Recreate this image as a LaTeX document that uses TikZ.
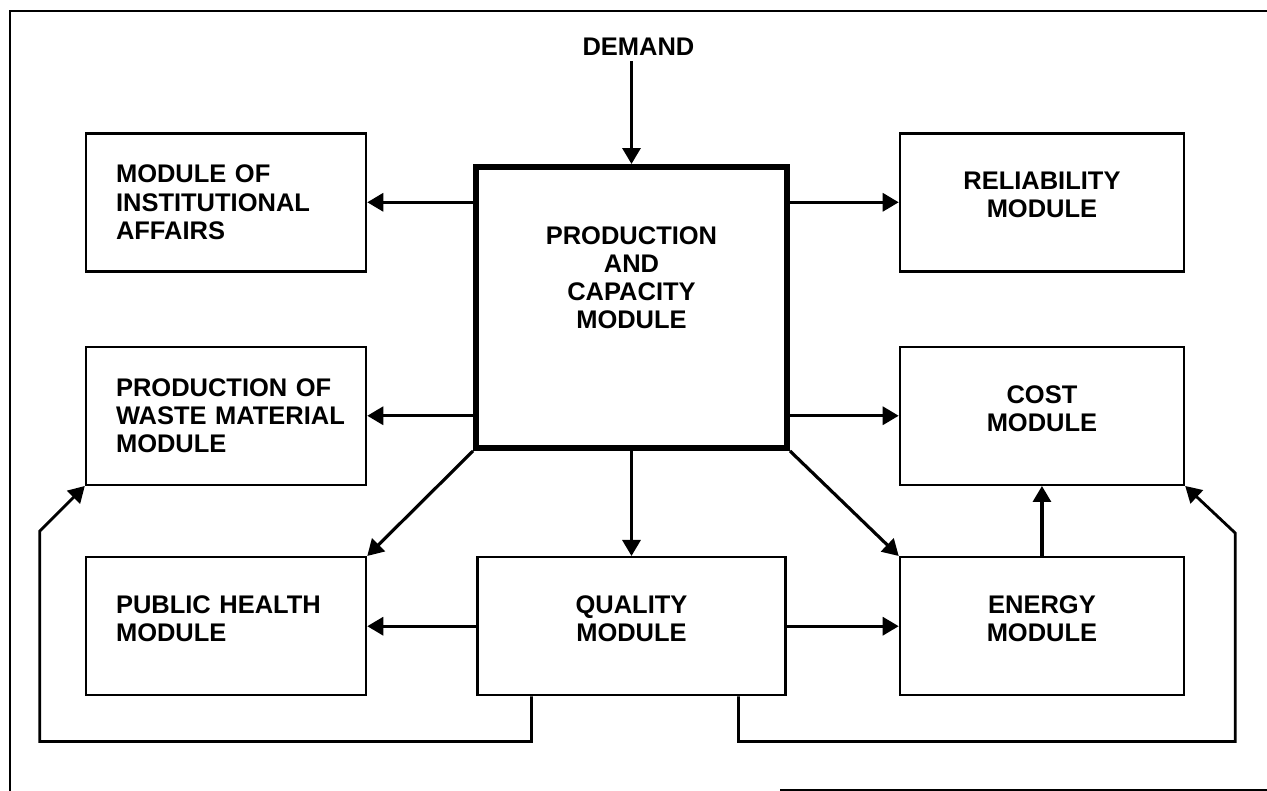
\documentclass[tikz,border=0pt]{standalone}
\usepackage{fontspec}
\setmainfont{Liberation Sans}
\usetikzlibrary{arrows.meta,positioning}

\begin{document}
\begin{tikzpicture}[line width=1.8pt]
\tikzset{module/.style={rectangle,draw,line width=1.4pt,minimum width=5.6cm,minimum height=2.76cm,inner sep=0pt,font=\bfseries\fontsize{14.5}{16}\selectfont}}
\tikzset{leftmod/.style={module,align=left,text width=4.4cm}}
\tikzset{rightmod/.style={module,align=center,minimum width=5.68cm,text depth=0.3cm}}
\tikzstyle{flow} = [-{Triangle[length=0.32cm,width=0.36cm]}]

\useasboundingbox (-12.63,-9.67) rectangle (12.71,6.15);

\node [module, line width=3.4pt, minimum width=6.22cm, minimum height=5.62cm] (prod) {};
\node [font=\bfseries\fontsize{14.5}{16}\selectfont, align=center] (prodtext) at ([yshift=0.6cm]prod.center) {PRODUCTION\\AND\\CAPACITY\\MODULE};
\node [rightmod, minimum width=6.16cm, below=2.1cm of prod] (quality) {QUALITY\\MODULE};
\node [leftmod, text depth=0.85cm, left=2.18cm of quality] (health) {PUBLIC HEALTH\\MODULE};
\node [rightmod, right=2.24cm of quality] (energy) {ENERGY\\MODULE};
\node [rightmod, above=1.4cm of energy] (cost) {COST\\MODULE};
\node [rightmod, above=1.46cm of cost] (rel) {RELIABILITY\\MODULE};
\node [leftmod, above=1.4cm of health] (waste) {PRODUCTION OF\\\mbox{WASTE MATERIAL}\\MODULE};
\node [leftmod, above=1.46cm of waste] (inst) {MODULE OF\\INSTITUTIONAL\\AFFAIRS};
\node [font=\bfseries\fontsize{14.5}{16}\selectfont, inner sep=2pt, above=2.06cm of prod, xshift=0.14cm] (demand) {DEMAND};

% frame
\draw [line width=1.2pt] (12.8,5.93) -- (-12.43,5.93) -- (-12.43,-9.7);
\draw [line width=1.2pt] (2.97,-9.65) -- (12.8,-9.65);

\begin{scope}[flow]
\draw (demand.south -| prod.north) -- (prod.north);
\draw (prod.west |- inst.east) -- (inst.east);
\draw (prod.west |- waste.east) -- (waste.east);
\draw (prod.east |- rel.west) -- (rel.west);
\draw (prod.east |- cost.west) -- (cost.west);
\draw (prod.south west) -- (health.north east);
\draw (prod.south) -- (quality.north);
\draw (prod.south east) -- (energy.north west);
\draw (quality.west) -- (health.east);
\draw (quality.east) -- (energy.west);
\draw (energy.north) -- (cost.south);

% feedback loops
\draw [line width=1.6pt] ([xshift=-2cm]quality.south) -- ++(0,-0.9) -| ([xshift=-0.9cm,yshift=-0.9cm]waste.south west) -- (waste.south west);
\draw [line width=1.6pt] ([xshift=2.14cm]quality.south) -- ++(0,-0.9) -| ([xshift=1cm,yshift=-0.94cm]cost.south east) -- (cost.south east);
\end{scope}
\end{tikzpicture}
\end{document}
